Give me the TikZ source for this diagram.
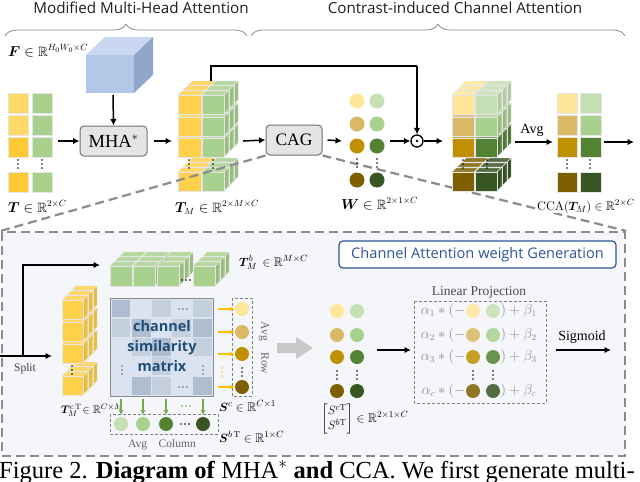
\documentclass[tikz,border=0pt]{standalone}
\usepackage{amsmath,amssymb,bm}
\usepackage{fontspec}
\newfontfamily\sansf{Open Sans}
\newfontfamily\serf{Liberation Serif}
\usetikzlibrary{arrows.meta,decorations.pathreplacing,calc}
\definecolor{yA}{HTML}{FFD966}
\definecolor{yB}{HTML}{FFC935}
\definecolor{yC}{HTML}{FFD04A}
\definecolor{gA}{HTML}{A9D18E}
\definecolor{c1}{HTML}{FFE699}
\definecolor{c2}{HTML}{DBB865}
\definecolor{c3}{HTML}{BF9000}
\definecolor{c4}{HTML}{7F6000}
\definecolor{d1}{HTML}{C5E0B4}
\definecolor{d2}{HTML}{A9D18E}
\definecolor{d3}{HTML}{548235}
\definecolor{d4}{HTML}{375623}
\definecolor{bluetxt}{HTML}{2F5597}
\definecolor{matxt}{HTML}{1F4E79}
\definecolor{mD}{HTML}{AEBDCF}
\definecolor{mM}{HTML}{C4D0DE}
\definecolor{mL}{HTML}{DAE3EF}
\definecolor{orng}{HTML}{FFC000}
\definecolor{grn}{HTML}{70AD47}
\definecolor{cubetop}{HTML}{C9D8F0}
\definecolor{cubeside}{HTML}{8FA7CB}
\definecolor{cubefront}{HTML}{B4C7E7}
\definecolor{bigarr}{HTML}{C9C9C9}
\definecolor{boxbg}{HTML}{F4F6FA}
\newcommand{\cubeC}[6]{%
  \filldraw[draw=white!80!gray, line width=0.4pt, fill=#6!90!black] (#1+#3,#2) -- ++(#5,-#5) -- ++(0,#4) -- ++(-#5,#5) -- cycle;
  \filldraw[draw=white!80!gray, line width=0.4pt, fill=#6!85!white] (#1,#2) -- ++(#5,-#5) -- ++(#3,0) -- ++(-#5,#5) -- cycle;
  \filldraw[draw=white!80!gray, line width=0.4pt, fill=#6] (#1,#2) rectangle ++(#3,#4);}
\newcommand{\cellstack}[5]{%
  \cubeC{#1+10}{#2-10}{#3}{#4}{4}{#5}%
  \cubeC{#1+5}{#2-5}{#3}{#4}{4}{#5}%
  \cubeC{#1}{#2}{#3}{#4}{4}{#5}}
\newcommand{\vdt}[3]{\fill[#3] (#1,#2-4) circle (0.8) (#1,#2) circle (0.8) (#1,#2+4) circle (0.8);}
\newcommand{\hdt}[3]{\fill[#3] (#1-4,#2) circle (0.8) (#1,#2) circle (0.8) (#1+4,#2) circle (0.8);}
\begin{document}
\begin{tikzpicture}[x=1pt,y=-1pt,
  arr/.style={line width=1.5pt,-{Latex[length=6.5pt,width=6.5pt]}},
  lab/.style={inner sep=0pt, font=\fontsize{13.5}{15}\selectfont},
  slab/.style={inner sep=0pt, font=\fontsize{12.5}{14}\selectfont},
  gbox/.style={draw=black!55, fill=black!10, rounded corners=4pt, line width=1pt, inner sep=0pt},
  dot/.style={circle, inner sep=0pt, minimum size=15pt},
  sdot/.style={circle, inner sep=0pt, minimum size=14pt},
  cell/.style={draw=white!80!gray, line width=0.5pt},
  zoomline/.style={draw=black!45, line width=2.2pt, dash pattern=on 9pt off 5pt},
  smalldash/.style={draw=black!50, line width=0.8pt, dash pattern=on 3pt off 2pt},
  oarr/.style={orng, line width=1.3pt, -{Latex[length=5pt,width=5pt]}},
  garr/.style={grn, line width=1.3pt, -{Latex[length=5pt,width=5pt]}},
  ftext/.style={inner sep=0pt, text=black!45, font=\fontsize{13.5}{15}\selectfont},
  smalltxt/.style={inner sep=0pt, font=\serf\fontsize{11.5}{13}\selectfont}]
\useasboundingbox (0,0) rectangle (640,482);
\fill[white] (0,0) rectangle (640,482);

% ---------- titles and braces
\node[anchor=base, inner sep=0pt, font=\sansf\fontsize{15.2}{17}\selectfont, text=black!88] (t1) at (141,13.5) {Modified Multi-Head Attention};
\node[anchor=base, inner sep=0pt, font=\sansf\fontsize{15.2}{17}\selectfont, text=black!88] (t2) at (455,13.5) {Contrast-induced Channel Attention};
\draw[decorate, decoration={brace, amplitude=12pt}, black!45, line width=0.8pt] (5,36) -- (247,36);
\draw[decorate, decoration={brace, amplitude=12pt}, black!45, line width=0.8pt] (251,36) -- (625,36);

% ---------- lower dashed box
\node[draw=black!45, line width=2.2pt, dash pattern=on 9pt off 5pt, fill=boxbg, minimum width=623pt, minimum height=224pt, inner sep=0pt] (cagbox) at (313.5,344) {};

% ---------- F cube
\fill[cubetop] (86,55) -- (105,37) -- (153,37) -- (134,55) -- cycle;
\fill[cubeside] (134,55) -- (153,37) -- (153,75) -- (134,93) -- cycle;
\fill[cubefront] (86,55) rectangle (134,93);
\coordinate (cubebot) at (113,95);
\node[lab, anchor=base west] (flab) at (8,56) {$\bm{F}\in\mathbb{R}^{H_0W_0\times C}$};

% ---------- T matrix
\foreach \y/\k in {93/yA,115/yA,137/yB,172/yB} {
  \fill[\k, cell] (8,\y) rectangle ++(20,20);
  \fill[gA, cell] (32,\y) rectangle ++(20,20);
}
\vdt{18}{164}{black} \vdt{42}{164}{black}
\coordinate (tout) at (58,141);
\node[lab, anchor=base west] (tlab) at (8,212) {$\bm{T}\in\mathbb{R}^{2\times C}$};

% ---------- MHA box
\node[gbox, minimum width=67pt, minimum height=30pt, font=\serf\fontsize{18.5}{20}\selectfont] (mha) at (113.5,141) {MHA$^{*}$};
\draw[arr] (cubebot) -- (mha.north);
\draw[arr] (tout) -- (mha.west);

% ---------- T_M stack
\foreach \y in {172,138,117,95} {
  \cellstack{178}{\y}{23}{19}{yC}
  \cellstack{202}{\y}{22}{19}{gA}
}
\vdt{189}{164}{black} \vdt{213}{164}{black}
\coordinate (tmin) at (172,141);
\coordinate (tmout) at (243,141);
\coordinate (tmtop) at (211,81);
\draw[arr] ([xshift=6pt]mha.east) -- (tmin);
\node[lab, anchor=base west] (tmlab) at (175,212) {$\bm{T}_M\in\mathbb{R}^{2\times M\times C}$};

% ---------- CAG
\node[gbox, minimum width=56pt, minimum height=30pt, font=\serf\fontsize{17.5}{20}\selectfont] (cag) at (294,140) {CAG};
\draw[arr] (tmout) -- (cag.west);
\draw[zoomline] (cag.south west) -- (cagbox.north west);
\draw[zoomline] (cag.south east) -- (cagbox.north east);

% ---------- W
\foreach \i/\y in {1/101,2/124,3/146,4/180} {
  \node[dot, fill=c\i] (wa\i) at (357,\y) {};
  \node[dot, fill=d\i] (wb\i) at (377,\y) {};
}
\vdt{357}{163}{black} \vdt{377}{163}{black}
\coordinate (win) at (342,141);
\coordinate (wout) at (390,141);
\draw[arr] ([xshift=5pt]cag.east) -- (win);
\node[lab, anchor=base west] (wlab) at (341,209) {$\bm{W}\in\mathbb{R}^{2\times 1\times C}$};

% ---------- odot
\node[circle, draw, line width=1.3pt, minimum size=12pt, inner sep=0pt] (od) at (417,141) {};
\fill (417,141) circle (1.4);
\draw[arr] (wout) -- (od.west);
\draw[line width=1.5pt] (tmtop) -- (211,66) -- (417,66);
\draw[arr] (417,66) -- (od.north);

% ---------- output stack
\foreach \y/\i in {172/4,138/3,117/2,95/1} {
  \cellstack{452}{\y}{22}{19}{c\i}
  \cellstack{475}{\y}{22}{19}{d\i}
}
\vdt{463}{164}{black} \vdt{487}{164}{black}
\coordinate (ostin) at (443,141);
\draw[arr] (od.east) -- (ostin);

% ---------- Avg and output matrix
\node[anchor=base, inner sep=0pt, font=\serf\fontsize{14}{16}\selectfont] (avg) at (532,133) {Avg};
\coordinate (avgA) at (515,142);
\coordinate (avgB) at (553,142);
\draw[arr] (avgA) -- (avgB);
\foreach \y/\i in {93/1,115/2,137/3,172/4} {
  \fill[c\i, cell] (557,\y) rectangle ++(20,20);
  \fill[d\i, cell] (580,\y) rectangle ++(21,20);
}
\vdt{567}{164}{black} \vdt{590}{164}{black}
\coordinate (outA) at (604,142);
\coordinate (outB) at (634,142);
\draw[arr] (outA) -- (outB);
\node[slab, anchor=base west, fill=white] (ccalab) at (537,210) {$\mathrm{CCA}(\bm{T}_M)\in\mathbb{R}^{2\times C}$};

% ================= lower part
\node[draw=bluetxt, line width=1.2pt, rounded corners=4pt, fill=white, minimum width=277pt, minimum height=27pt, inner sep=0pt, text=bluetxt, font=\sansf\fontsize{14.6}{16}\selectfont] (cawg) at (477.5,254.5) {Channel Attention weight Generation};

% split
\coordinate (splitin) at (0,356);
\coordinate (splitA) at (52,356);
\coordinate (splitB) at (100,265);
\draw[arr] (splitin) -- (splitA);
\draw[arr] (23,356) -- (23,265) -- (splitB);
\node[smalltxt, text=black!75] (split) at (25,369) {Split};

% yellow column
\foreach \y in {376,344,322,300} { \cellstack{62}{\y}{21}{19}{yC} }
\vdt{72}{370}{black}
\node[inner sep=0pt, font=\fontsize{11}{13}\selectfont, anchor=base west] (tmclab) at (61,413) {$\bm{T}_M^{c\,\mathrm{T}}\!\in\mathbb{R}^{C\times M}$};

% green row
\foreach \x in {110,133,157,193} { \cellstack{\x}{266}{22}{20}{gA} }
\hdt{186}{280}{black}
\node[slab, anchor=base west] (tmblab) at (239,266) {$\bm{T}_M^{b}\,\in\mathbb{R}^{M\times C}$};

% similarity matrix
\node[draw=black!45, line width=1pt, fill=mL, minimum width=103pt, minimum height=98pt, inner sep=0pt] (mat) at (161.5,347) {};
\foreach \c/\r/\k in {0/0/mD,1/0/mL,2/0/mM,3/0/mL,4/0/mM,
                      0/1/mM,1/1/mD,2/1/mL,3/1/mM,4/1/mD,
                      0/2/mL,1/2/mM,2/2/mD,3/2/mL,4/2/mM,
                      0/3/mL,1/3/mL,2/3/mM,3/3/mL,4/3/mL,
                      0/4/mL,1/4/mD,2/4/mM,3/4/mL,4/4/mD}
  \fill[\k] (111.5+\c*20.3, 299.5+\r*19.3) rectangle ++(18.8,17.8);
\hdt{183}{309}{black!60} \hdt{183}{387}{black!60}
\vdt{122}{370}{black!60} \vdt{203}{370}{black!60}
\node[align=center, text=matxt, font=\sansf\bfseries\fontsize{14.5}{20}\selectfont, inner sep=0pt] (mattxt) at (162,346) {channel\\similarity\\matrix};

% S^c
\draw[smalldash] (232,298) rectangle (252,396);
\foreach \i/\y in {1/309,2/332,3/354,4/387} {
  \node[sdot, fill=c\i] (sc\i) at (242,\y) {};
  \draw[oarr] (218,\y) -- (sc\i.west);
}
\vdt{222}{372}{orng} \vdt{242}{372}{black}
\node[smalltxt, rotate=-90, text=black!60] (avgrow) at (264,348) {Avg\quad Row};
\node[slab, anchor=base west] (sclab) at (219,411) {$\bm{S}^{c}\in\mathbb{R}^{C\times 1}$};

% S^b
\draw[smalldash] (110,414) rectangle (218,434);
\foreach \i/\x in {1/121,2/143,3/166,4/203} {
  \node[sdot, fill=d\i] (sb\i) at (\x,424) {};
}
\foreach \x in {121,143,166,203} { \draw[garr] (\x,399) -- (\x,415); }
\hdt{186}{406}{grn} \hdt{185}{424}{black}
\node[smalltxt, text=black!60] (avgcol) at (162,445) {Avg\quad Column};
\node[slab, anchor=base west] (sblab) at (219,442) {$\bm{S}^{b\,\mathrm{T}}\in\mathbb{R}^{1\times C}$};

% big gray arrow
\fill[bigarr] (277,343) -- (296,343) -- (296,337) -- (313,348) -- (296,359) -- (296,353) -- (277,353) -- cycle;

% pairs
\foreach \i/\y in {1/311,2/335,3/357,4/391} {
  \node[sdot, fill=c\i] (pa\i) at (337,\y) {};
  \node[sdot, fill=d\i] (pb\i) at (357,\y) {};
}
\vdt{337}{375}{black} \vdt{357}{375}{black}
\node[slab, anchor=west] (pairlab) at (321,419) {$\begin{bmatrix} S^{c\mathrm{T}}\\ S^{b\mathrm{T}}\end{bmatrix}\in\mathbb{R}^{2\times 1\times C}$};
\coordinate (pairout) at (377,350);
\coordinate (linin) at (411,350);
\draw[arr] (pairout) -- (linin);

% linear projection
\node[smalltxt, text=black!70, font=\serf\fontsize{13.5}{15}\selectfont] (linlab) at (479,292) {Linear Projection};
\draw[smalldash] (414,301) rectangle (546,403);
\foreach \i/\y/\s in {1/311/1,2/335/2,3/357/3,4/391/c} {
  \node[ftext, anchor=east] (fl\i) at (465.5,\y) {$\alpha_{\s} * (-$};
  \node[sdot, fill=c\i, opacity=0.85] (fa\i) at (473,\y) {};
  \node[sdot, fill=d\i, opacity=0.85] (fb\i) at (493,\y) {};
  \node[ftext, anchor=west] (fr\i) at (500.5,\y) {$) + \beta_{\s}$};
}
\vdt{473}{375}{black} \vdt{493}{375}{black}

% sigmoid
\node[smalltxt, font=\serf\fontsize{14}{16}\selectfont] (sig) at (582,337) {Sigmoid};
\coordinate (sigA) at (556,350);
\coordinate (sigB) at (611,350);
\draw[arr] (sigA) -- (sigB);

% caption
\node[anchor=base west, inner sep=0pt, font=\serf\fontsize{24.5}{28}\selectfont] (cap) at (-1,478) {Figure 2. \textbf{Diagram of} MHA$^{*}$ \textbf{and} CCA. We first generate multi-};
\end{tikzpicture}
\end{document}
